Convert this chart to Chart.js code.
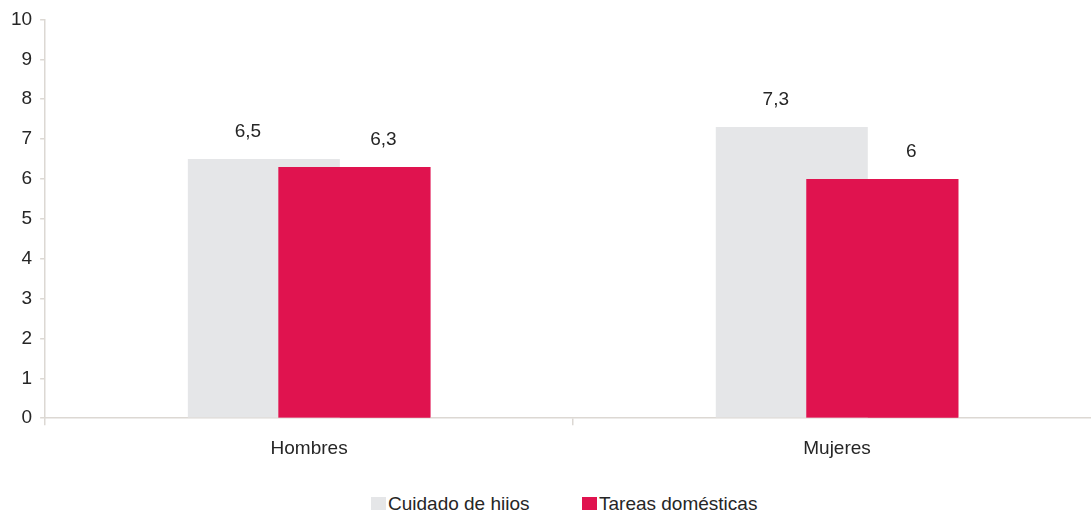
<!DOCTYPE html>
<html lang="es">
<head>
    <meta charset="UTF-8">
    <title>Cuidado de hijos y tareas domésticas</title>
    <script src="https://cdn.jsdelivr.net/npm/chart.js@4.4.1/dist/chart.umd.min.js"></script>
    <style>
        html, body { margin: 0; padding: 0; background: #fff; overflow: hidden; }
        .chart-box { position: relative; width: 1104px; height: 480px; }
        .legend {
            position: absolute; top: 494px; left: 0; width: 1091px; height: 20px;
            font-family: 'Liberation Sans', Arial, sans-serif; font-size: 19px; line-height: 19px; color: #262626;
        }
        .legend-item { position: absolute; top: 0; white-space: nowrap; }
        .legend-item i {
            display: inline-block; width: 15px; height: 15px; margin-right: 2px;
            vertical-align: top; position: relative; top: 3px;
        }
    </style>
</head>
<body>
    <div class="chart-box">
        <canvas id="horasChart"></canvas>
    </div>
    <div class="legend">
        <span class="legend-item" style="left:371px"><i style="background:#e5e6e8"></i>Cuidado de hijos</span>
        <span class="legend-item" style="left:582px"><i style="background:#e0134f"></i>Tareas domésticas</span>
    </div>

    <script>
        const categorias = ['Hombres', 'Mujeres'];
        const cuidadoHijos = [6.5, 7.3];
        const tareasDomesticas = [6.3, 6];
        const yTicks = [0, 1, 2, 3, 4, 5, 6, 7, 8, 9, 10];

        const FONT = "'Liberation Sans', Arial, sans-serif";
        const AXIS = '#dcd8d3';
        const TEXT = '#262626';

        // red bars go over the grey ones, then the value labels
        const barLabels = {
            id: 'barLabels',
            afterDatasetsDraw(chart) {
                chart.getDatasetMeta(1).controller.draw();
                const ctx = chart.ctx;
                ctx.save();
                ctx.font = '19px ' + FONT;
                ctx.fillStyle = TEXT;
                ctx.textAlign = 'center';
                ctx.textBaseline = 'middle';
                const shift = [-16, 29];
                chart.data.datasets.forEach((ds, i) => {
                    chart.getDatasetMeta(i).data.forEach((bar, j) => {
                        const txt = String(ds.data[j]).replace('.', ',');
                        ctx.fillText(txt, bar.x + shift[i], bar.y - 27);
                    });
                });
                ctx.restore();
            }
        };

        const ctx = document.getElementById('horasChart').getContext('2d');
        new Chart(ctx, {
            type: 'bar',
            data: {
                labels: categorias,
                datasets: [{
                    label: 'Cuidado de hijos',
                    data: cuidadoHijos,
                    backgroundColor: '#e5e6e8'
                }, {
                    label: 'Tareas domésticas',
                    data: tareasDomesticas,
                    backgroundColor: '#e0134f'
                }]
            },
            options: {
                responsive: true,
                maintainAspectRatio: false,
                animation: false,
                categoryPercentage: 0.3428,
                barPercentage: 1.68,
                layout: { padding: { top: 18, left: 3, right: 3, bottom: 8 } },
                plugins: {
                    legend: { display: false },
                    tooltip: { enabled: false }
                },
                scales: {
                    x: {
                        grid: { drawOnChartArea: false, tickLength: 7, color: AXIS, lineWidth: 1.5 },
                        border: { color: AXIS, width: 1.5 },
                        ticks: { color: TEXT, padding: 12, font: { family: FONT, size: 19 } }
                    },
                    y: {
                        min: 0,
                        max: 10,
                        afterBuildTicks: axis => { axis.ticks = yTicks.map(v => ({ value: v })); },
                        grid: { drawOnChartArea: false, tickLength: 5, color: AXIS, lineWidth: 1.5 },
                        border: { color: AXIS, width: 1.5 },
                        ticks: { color: TEXT, padding: 8, font: { family: FONT, size: 19 } }
                    }
                }
            },
            plugins: [barLabels]
        });
    </script>
</body>
</html>
